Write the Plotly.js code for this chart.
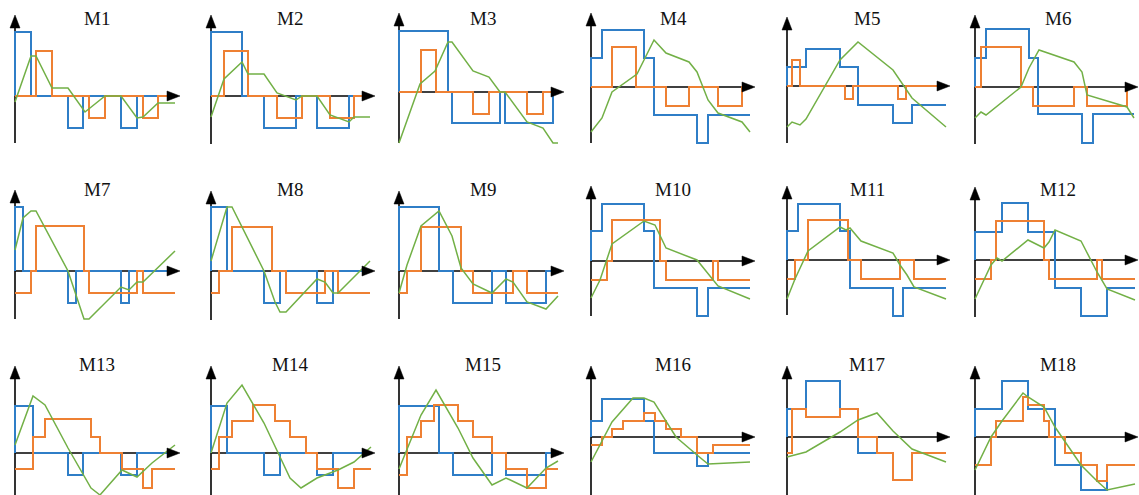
<!DOCTYPE html>
<html>
<head>
<meta charset="utf-8">
<script src="https://cdn.plot.ly/plotly-3.0.1.min.js"></script>
<style>html,body{margin:0;padding:0;background:#fff;}#chart{width:1139px;height:495px;}</style>
</head>
<body>
<div id="chart"></div>
<script>
// ---------- data (x: time offset, y: amplitude) ----------
const titles = ['M1','M2','M3','M4','M5','M6','M7','M8','M9','M10','M11','M12','M13','M14','M15','M16','M17','M18'];

const blueX = [
  [0,0,16,53,68,106,122,157],[0,0,31,53,85,106,138,159],[0,0,49,53,101,106,154,160],
  [0,0,11,53,63,106,117,159],[0,0,19,53,71,106,125,159],[0,0,11,54,63,107,118,159],
  [0,0,8,53,61,106,114,160],[0,0,16,53,69,106,122,160],[0,0,40,54,93,107,147,159],
  [0,0,11,53,63,106,117,159],[0,0,11,53,63,106,116,159],[0,0,27,53,80,106,132,160],
  [0,0,18,53,68,106,122,160],[0,0,16,53,69,106,122,160],[0,0,40,54,93,107,147,159],
  [0,0,11,53,63,106,117,159],[0,0,19,53,71,106,125,159],[0,0,27,53,80,106,132,160]
];
const blueY = [
  [0,64,0,-32,0,-32,0,0],[0,64,0,-32,0,-32,0,0],[0,61,0,-31,0,-31,0,0],
  [0,29,57,29,-28,-56,-28,-28],[0,19,37,19,-19,-37,-19,-19],[0,29,58,29,-27,-56,-27,-27],
  [0,64,0,-32,0,-32,0,0],[0,64,0,-32,0,-32,0,0],[0,64,0,-32,0,-32,0,0],
  [0,30,57,30,-27,-55,-27,-27],[0,29,56,29,-28,-56,-28,-28],[0,28,57,28,-28,-56,-28,-28],
  [0,47,0,-22,0,-22,0,0],[0,47,0,-22,0,-22,0,0],[0,47,0,-22,0,-22,0,0],
  [0,16,38,16,-16,-29,-16,-16],[0,28,56,28,-16,-43,-16,-16],[0,28,56,28,-28,-53,-28,-28]
];
const orangeX = [
  [0,21,37,74,90,128,143,157],[0,13,37,66,91,119,143,159],[0,22,37,74,90,128,144,160],
  [0,21,45,75,98,127,151,159],[0,5,13,58,66,111,119,159],[0,6,46,58,99,112,152,159],
  [0,16,21,69,74,122,128,160],[0,8,21,61,75,114,127,159],[0,8,22,62,74,114,128,159],
  [0,16,21,69,75,122,127,159],[0,8,21,61,74,113,127,159],[0,16,21,69,74,122,127,160],
  [0,18,30,76,85,107,128,137,160],[0,8,21,42,64,79,95,106,127,143,160],[0,8,22,35,59,74,93,107,128,147,159],
  [0,11,21,32,53,64,75,90,106,122,159],[0,5,19,53,71,90,106,125,159],[0,16,21,48,53,69,74,90,106,122,132,160]
];
const orangeY = [
  [0,45,0,-22,0,-22,0,0],[0,45,0,-22,0,-22,0,0],[0,42,0,-22,0,-22,0,0],
  [0,40,0,-19,0,-19,0,0],[0,26,0,-13,0,-13,0,0],[0,40,0,-19,0,-19,0,0],
  [-22,0,45,0,-22,0,-22,-22],[-22,0,44,0,-22,0,-22,-22],[-22,0,44,0,-22,0,-22,-22],
  [-19,0,41,0,-19,0,-19,-19],[-19,0,40,0,-19,0,-19,-19],[-19,0,39,0,-19,0,-19,-19],
  [-16,16,34,16,0,-16,-35,-16,-16],[-16,16,32,48,32,16,0,-16,-35,-16,-16],[-22,16,32,48,32,16,0,-16,-35,-16,-16],
  [-8,0,8,16,24,16,8,0,-16,-8,-8],[-16,28,20,28,0,-16,-43,-16,-16],[-28,0,16,40,32,16,0,-16,-28,-44,-28,-28]
];
const greenX = [
  [0,16,21,37,53,70,90,106,122,128,143,160],[0,13,31,37,53,66,85,91,106,119,138,143,159],[0,21,36,49,53,74,90,101,106,128,144,154,159],
  [0,11,21,46,63,75,98,106,117,127,151,159],[0,5,13,19,53,71,106,125,159],[0,6,11,46,54,64,99,107,112,152,159],
  [0,8,16,21,53,69,74,106,114,122,128,160],[0,16,21,53,64,69,75,106,114,122,127,159],[0,8,22,40,53,62,74,93,107,114,128,147,159],
  [0,9,21,53,64,75,106,122,127,159],[0,8,21,53,59,63,74,106,113,120,127,159],[0,16,22,27,53,69,74,80,106,122,132,160],
  [0,18,30,53,76,85,107,122,137,160],[0,16,31,53,79,90,106,127,143,160],[0,22,37,59,74,93,107,128,147,159],
  [0,21,42,53,63,85,106,117,159],[0,19,53,71,90,106,125,159],[0,16,27,48,53,69,80,106,122,132,160]
];
const greenY = [
  [-6,40,40,8,8,-16,0,0,-22,-21,-7,-7],[-21,17,34,22,22,3,-4,0,0,-19,-26,-21,-21],[-51,8,21,50,50,21,15,0,0,-30,-36,-51,-51],
  [-45,-31,-5,13,47,34,25,15,-13,-26,-35,-45],[-41,-36,-39,-33,26,44,16,-12,-41],[-31,-25,-28,0,19,37,25,15,-8,-20,-31],
  [21,53,60,60,0,-48,-48,-16,-19,-11,-11,20],[10,64,64,0,-31,-41,-41,-8,-11,-22,-22,10],[-22,6,45,60,35,3,-13,-22,-8,-11,-31,-38,-25],
  [-37,-19,17,40,36,13,1,-18,-25,-38],[-39,-19,9,33,30,32,19,7,-5,-15,-27,-39],[-39,-5,2,-1,20,12,18,30,19,-12,-29,-40],
  [8,57,48,5,-35,-42,-17,-24,-10,8],[0,50,68,30,-25,-35,-25,-17,-9,6],[-16,38,63,25,-5,-32,-25,-35,-15,-8],
  [-25,15,39,39,35,0,-18,-27,-25],[-20,-15,5,17,24,6,-12,-25],[-33,0,16,44,40,30,10,-28,-44,-53,-47]
];

// ---------- layout geometry (pixels) ----------
const W = 1139, H = 495;
const colOriginX = [15,211,399,591,787,975];
const originY = [96,96,92,87,86,87, 271,271,271,261,260,260, 453,453,453,437,437,437];
const arrowTopY = [15,15,13,13,17,15, 190,191,191,186,186,187, 366,366,366,366,366,366];
const axisBottomY = [143,144,143,143,143,144, 319,320,319,316,315,317, 495,495,495,495,495,495];
const arrowRightX = [180,375,564,755,950,1138];
const titleX = [97,290,483,673,867,1058];
const titleY = [18,189,364];

const BLUE = '#2F7EC7', ORANGE = '#EE8033', GREEN = '#72B046';

const traces = [], shapes = [], annotations = [];
const layout = {
  width: W, height: H, margin: {l:0,r:0,t:0,b:0},
  paper_bgcolor: '#fff', plot_bgcolor: 'rgba(0,0,0,0)',
  showlegend: false, shapes: shapes, annotations: annotations
};

for (let i = 0; i < 18; i++) {
  const col = i % 6, row = Math.floor(i / 6);
  const n = i === 0 ? '' : String(i + 1);
  const x0 = colOriginX[col], y0 = originY[i];
  const ax = {domain:[0,1], range:[-x0, W - x0], visible:false, fixedrange:true, showgrid:false, zeroline:false};
  const ay = {domain:[0,1], range:[y0 - H, y0], visible:false, fixedrange:true, showgrid:false, zeroline:false, anchor:'x'+n};
  ax.anchor = 'y' + n;
  layout['xaxis' + n] = ax;
  layout['yaxis' + n] = ay;
  const xr = 'x' + n, yr = 'y' + n;

  // axes with arrows
  const top = y0 - arrowTopY[i];
  const bottom = y0 - axisBottomY[i];
  const right = arrowRightX[col] - x0;
  shapes.push({type:'line', xref:xr, yref:yr, x0:0, x1:0, y0:bottom, y1:top - 8, line:{color:'#000', width:1.6}, layer:'below'});
  shapes.push({type:'line', xref:xr, yref:yr, x0:0, x1:right - 8, y0:0, y1:0, line:{color:'#000', width:1.6}, layer:'below'});
  shapes.push({type:'path', xref:xr, yref:yr, path:`M -5,${top-13} L 5,${top-13} L 0,${top} Z`, fillcolor:'#000', line:{color:'#000', width:0.5}, layer:'above'});
  shapes.push({type:'path', xref:xr, yref:yr, path:`M ${right-13},5 L ${right-13},-5 L ${right},0 Z`, fillcolor:'#000', line:{color:'#000', width:0.5}, layer:'above'});

  traces.push({type:'scatter', mode:'lines', x:blueX[i], y:blueY[i], xaxis:xr, yaxis:yr,
    line:{color:BLUE, width:2, shape:'hv'}, hoverinfo:'skip'});
  traces.push({type:'scatter', mode:'lines', x:orangeX[i], y:orangeY[i], xaxis:xr, yaxis:yr,
    line:{color:ORANGE, width:2, shape:'hv'}, hoverinfo:'skip'});
  traces.push({type:'scatter', mode:'lines', x:greenX[i], y:greenY[i], xaxis:xr, yaxis:yr,
    line:{color:GREEN, width:1.5}, hoverinfo:'skip'});

  annotations.push({text:titles[i], xref:'paper', yref:'paper', x:titleX[col]/W, y:1 - titleY[row]/H,
    xanchor:'center', yanchor:'middle', showarrow:false,
    font:{family:'Liberation Serif, Times New Roman, serif', size:19, color:'#111'}});
}

Plotly.newPlot('chart', traces, layout, {staticPlot:true, displayModeBar:false});
</script>
</body>
</html>
